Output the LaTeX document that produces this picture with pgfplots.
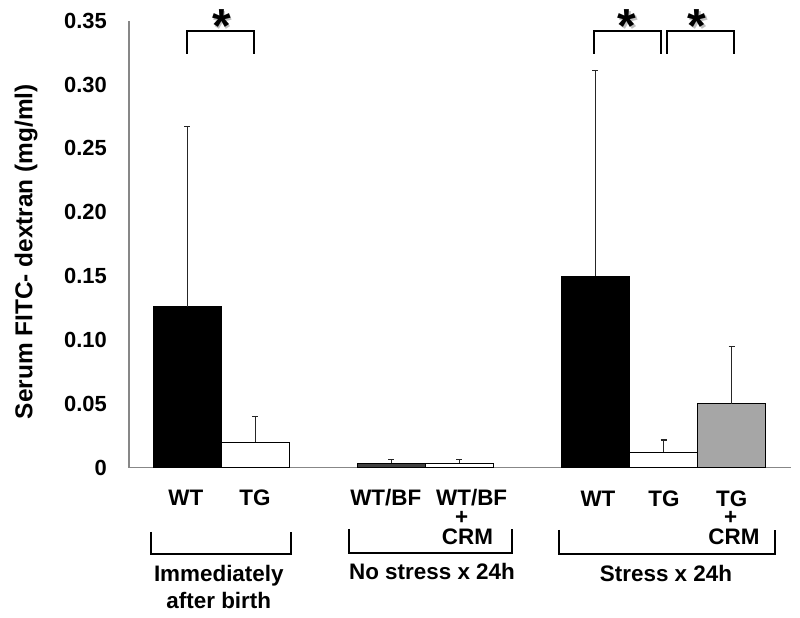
\documentclass[border=0pt]{standalone}
\usepackage{pgfplots}
\pgfplotsset{compat=1.18}
\usepackage{fontspec}
\setmainfont{Liberation Sans}
\definecolor{axgray}{HTML}{878787}
\definecolor{dkgray}{HTML}{404040}
\definecolor{mdgray}{HTML}{A6A6A6}
\newcommand\fs[1]{\fontsize{#1}{#1}\selectfont\bfseries}
\pgfplotsset{errs/.style={error bars/.cd, y dir=plus, y explicit,
  error bar style={line width=1.3bp, black!85},
  error mark options={rotate=90, line width=1.3bp, mark size=3bp, black!85}}}
\begin{document}
\begin{tikzpicture}
\begin{axis}[
  scale only axis, width=662bp, height=447bp,
  xmin=-0.86, xmax=8.875, ymin=0, ymax=0.35,
  axis lines=left, axis line style={-, draw=axgray, line width=1.3bp},
  xtick=\empty,
  ytick={0,0.05,0.10,0.15,0.20,0.25,0.30,0.35},
  yticklabels={0,0.05,0.10,0.15,0.20,0.25,0.30,0.35},
  major tick length=0pt,
  yticklabel style={font=\fs{22}, anchor=east, inner sep=0pt, xshift=-22bp},
  ybar, bar width=1, bar shift=0pt,
  clip=false,
  ylabel={Serum FITC- dextran (mg/ml)},
  ylabel style={font=\fs{24.5}, at={(axis description cs:-0.1556,0.4832)}, anchor=center},
]
\addplot[fill=black, draw=black, line width=1bp, errs] coordinates {(0,0.126) +- (0,0.141) (6,0.150) +- (0,0.161)};
\addplot[fill=white, draw=black, line width=1bp, errs] coordinates {(1,0.020) +- (0,0.020) (4,0.0035) +- (0,0.003) (7,0.012) +- (0,0.0097)};
\addplot[fill=dkgray, draw=black, line width=1bp, errs] coordinates {(3,0.0035) +- (0,0.003)};
\addplot[fill=mdgray, draw=black, line width=1bp, errs] coordinates {(8,0.050) +- (0,0.0447)};
\end{axis}
\coordinate (O) at ([xshift=-129bp, yshift=467.7bp]current axis.south west);
\begin{scope}[shift={(O)}, x=1bp, y=-1bp, every node/.style={font=\fs{22.5}, inner sep=0pt}]
  % category labels
  \node[anchor=base] at (185.8,506) {WT};
  \node[anchor=base] at (255,506) {TG};
  \node[anchor=base] at (385.8,506) {WT/BF};
  \node[anchor=base] at (471.7,506) {WT/BF};
  \node[anchor=base] at (461.7,525) {\smash{+}};
  \node[anchor=base] at (467.5,544.3) {CRM};
  \node[anchor=base] at (598,506.5) {WT};
  \node[anchor=base] at (664,506.5) {TG};
  \node[anchor=base] at (731.7,506.5) {TG};
  \node[anchor=base] at (730.7,525) {\smash{+}};
  \node[anchor=base] at (734,544.3) {CRM};
  % group brackets
  \draw[line width=2bp] (151,532)--(151,554)--(291,554)--(291,532);
  \draw[line width=2bp] (349,529)--(349,553)--(512,553)--(512,529);
  \draw[line width=2bp] (559,530)--(559,554)--(775,554)--(775,530);
  \node[anchor=base] at (218.8,581.7) {Immediately};
  \node[anchor=base] at (218.8,608.3) {after birth};
  \node[anchor=base] at (432,580) {No stress x 24h};
  \node[anchor=base] at (666,581.7) {Stress x 24h};
  % significance
  \draw[line width=2bp] (187,54)--(187,31.5)--(254,31.5)--(254,54);
  \draw[line width=2bp] (594,54)--(594,31.5)--(661,31.5)--(661,54);
  \draw[line width=2bp] (667,54)--(667,31.5)--(734,31.5)--(734,54);
  \foreach \sx in {221.5,627,697}{
    \node[anchor=base, font=\fs{48}, text=black!25] at (\sx+1.5,44.5) {*};
    \node[anchor=base, font=\fs{48}] at (\sx,43) {*};
  }
\end{scope}
\pgfresetboundingbox
\path (O) rectangle ++(800bp,-618bp);
\end{tikzpicture}
\end{document}
